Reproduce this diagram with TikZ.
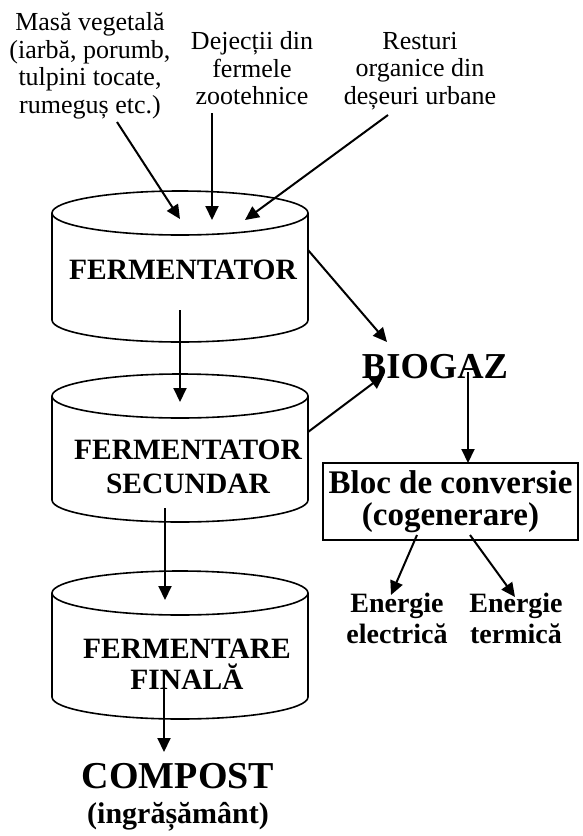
\documentclass[tikz,border=0pt]{standalone}
\usepackage{fontspec}
\setmainfont{Liberation Serif}
\usetikzlibrary{arrows.meta}
\newcommand\myfs[2]{\fontsize{#1}{#2}\selectfont}
\tikzset{
  arr/.style={-{Triangle[length=14pt,width=13pt]}, line width=2pt},
  cylline/.style={line width=1.6pt},
  lbl/.style={inner sep=0pt, align=center, font=\myfs{26}{27.5}},
  btxt/.style={inner sep=0pt, align=center, font=\bfseries\myfs{29.5}{33}},
}
\begin{document}
\begin{tikzpicture}[x=1pt,y=-1pt]
\useasboundingbox (0,0) rectangle (582,836);
% top labels
\node[lbl] (lblA) at (90,66) {Masă vegetală\\(iarbă, porumb,\\tulpini tocate,\\rumeguș etc.)};
\node[lbl] (lblB) at (252,68.5) {Dejecții din\\fermele\\zootehnice};
\node[lbl] (lblC) at (420,71) {Resturi\\organice din\\deșeuri urbane};
% cylinders
\foreach \t/\b in {213/320, 396/500, 593/697}{
  \draw[cylline] (180,\t) ellipse [x radius=128pt, y radius=22pt];
  \draw[cylline] (52,\t) -- (52,\b) arc[start angle=180, end angle=360, x radius=128pt, y radius=22pt] -- (308,\t);
}
\node[btxt, anchor=base] (fermA) at (183,279) {FERMENTATOR};
\node[btxt, font=\bfseries\myfs{29.5}{34}] (fermB) at (188,466.5) {FERMENTATOR\\SECUNDAR};
\node[btxt, font=\bfseries\myfs{29.5}{31}] (fermC) at (187,664) {FERMENTARE\\FINALĂ};
% outputs
\node[inner sep=0pt, anchor=base, font=\bfseries\myfs{36.5}{40}] (biogaz) at (435,378) {BIOGAZ};
\node[draw, line width=1.6pt, inner sep=0pt, minimum width=255pt, minimum height=77pt, align=center, font=\bfseries\myfs{33}{32}] (bloc) at (450.5,501.5) {Bloc de conversie\\(cogenerare)};
\node[inner sep=0pt, align=center, font=\bfseries\myfs{28}{31}] (enEl) at (397,618) {Energie\\electrică};
\node[inner sep=0pt, align=center, font=\bfseries\myfs{28}{31}] (enTerm) at (516,618) {Energie\\termică};
\node[inner sep=0pt, anchor=base, font=\bfseries\myfs{38}{40}] (compost) at (178,788) {COMPOST};
\node[inner sep=0pt, anchor=base, font=\bfseries\myfs{30}{32}] (ingr) at (178,823) {(ingrășământ)};
% connector end points
\coordinate (a1s) at (117,122); \coordinate (a1e) at (180,219);
\coordinate (a2s) at (212,113); \coordinate (a2e) at (212,220);
\coordinate (a3s) at (388,115); \coordinate (a3e) at (245,220);
\coordinate (c1s) at (180,310); \coordinate (c1e) at (180,402);
\coordinate (c2s) at (165,508); \coordinate (c2e) at (165,600);
\coordinate (c3s) at (164,670); \coordinate (c3e) at (164,752);
\coordinate (g1s) at (308,250); \coordinate (g1e) at (387,342);
\coordinate (g2s) at (308,432); \coordinate (g2e) at (384,375);
\coordinate (bgs) at (468,372); \coordinate (bge) at (468,463);
\coordinate (e1s) at (417,535); \coordinate (e1e) at (391,595);
\coordinate (e2s) at (470,535); \coordinate (e2e) at (515,597);
% connectors
\draw[arr] (a1s) -- (a1e);
\draw[arr] (a2s) -- (a2e);
\draw[arr] (a3s) -- (a3e);
\draw[arr] (c1s) -- (c1e);
\draw[arr] (c2s) -- (c2e);
\draw[arr] (c3s) -- (c3e);
\draw[arr] (g1s) -- (g1e);
\draw[arr] (g2s) -- (g2e);
\draw[arr] (bgs) -- (bge);
\draw[arr] (e1s) -- (e1e);
\draw[arr] (e2s) -- (e2e);
\end{tikzpicture}
\end{document}
